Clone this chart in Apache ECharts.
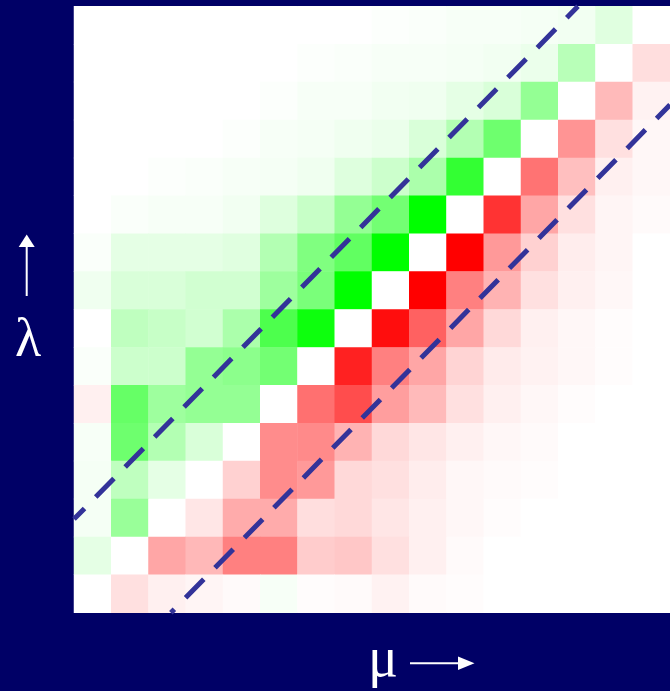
<!DOCTYPE html>
<html>
<head>
<meta charset="utf-8">
<script src="https://cdn.jsdelivr.net/npm/echarts@6/dist/echarts.min.js"></script>
<style>
  html, body { margin: 0; padding: 0; background: #000066; }
  #chart { width: 670px; height: 691px; }
</style>
</head>
<body>
<div id="chart"></div>
<script>
// μ bins along x, λ bins along y (16 each)
const muBins = ['0','1','2','3','4','5','6','7','8','9','10','11','12','13','14','15'];
const lambdaBins = ['0','1','2','3','4','5','6','7','8','9','10','11','12','13','14','15'];

// Signed difference per cell, rows listed from λ = 15 (top) down to λ = 0.
// Positive = green (λ > μ side), negative = red (λ < μ side).
const diffRows = [
  [0, 0, 0, 0, 0, 0, 0, 0, .01, .02, .03, .03, .04, .05, .12, 0],
  [0, 0, 0, 0, 0, 0, .01, .02, .03, .03, .04, .05, .08, .28, 0, -.13],
  [0, 0, 0, 0, 0, .01, .03, .03, .05, .06, .10, .15, .42, 0, -.27, -.05],
  [0, 0, 0, 0, .01, .03, .04, .06, .08, .15, .30, .57, 0, -.42, -.12, -.03],
  [0, 0, .01, .02, .03, .04, .06, .13, .20, .33, .80, 0, -.55, -.25, -.06, -.03],
  [0, .02, .03, .03, .05, .13, .22, .42, .55, 1.0, 0, -.80, -.35, -.12, -.04, -.02],
  [.02, .10, .10, .10, .12, .30, .50, .62, 1.0, 0, -1.0, -.40, -.18, -.07, -.04, 0],
  [.06, .15, .15, .18, .18, .38, .52, 1.0, 0, -1.0, -.50, -.30, -.12, -.06, -.03, 0],
  [0, .25, .22, .18, .33, .70, .95, 0, -.95, -.62, -.35, -.15, -.06, -.03, -.01, 0],
  [.02, .20, .20, .42, .45, .55, 0, -.87, -.50, -.35, -.17, -.08, -.05, -.03, -.01, 0],
  [-.06, .60, .38, .42, .42, 0, -.56, -.70, -.38, -.27, -.12, -.06, -.03, -.01, 0, 0],
  [.03, .57, .30, .15, 0, -.45, -.46, -.30, -.15, -.10, -.06, -.03, -.02, 0, 0, 0],
  [.04, .25, .10, 0, -.18, -.45, -.40, -.15, -.12, -.07, -.03, -.02, -.01, 0, 0, 0],
  [.04, .40, 0, -.10, -.33, -.33, -.13, -.15, -.10, -.06, -.03, -.01, 0, 0, 0, 0],
  [.10, 0, -.35, -.28, -.50, -.50, -.20, -.22, -.12, -.06, -.02, 0, 0, 0, 0, 0],
  [0, -.12, -.06, -.04, -.02, .03, -.01, -.02, -.05, -.02, -.01, 0, 0, 0, 0, 0]
];

// λ − μ offsets of the two dashed boundary lines
const boundOffsets = [2.47, -2.6];

const nBins = muBins.length;
const heatData = [];
diffRows.forEach((row, k) => {
  const lam = nBins - 1 - k;
  row.forEach((v, j) => heatData.push([j, lam, v]));
});

// endpoints of λ = μ + d clipped to the [0, nBins] square
function boundLine(d) {
  const x0 = Math.max(0, -d), y0 = x0 + d;
  const x1 = Math.min(nBins, nBins - d), y1 = x1 + d;
  return [[x0, y0], [x1, y1]];
}

const chart = echarts.init(document.getElementById('chart'), null, { renderer: 'canvas' });

const gridSize = 606.4;
const hiddenAxis = {
  show: false, axisLine: { show: false }, axisTick: { show: false },
  axisLabel: { show: false }, splitLine: { show: false }
};

chart.setOption({
  backgroundColor: '#000066',
  animation: false,
  grid: {
    left: 74, top: 6.3, width: gridSize, height: gridSize, containLabel: false,
    show: true, backgroundColor: '#ffffff', borderWidth: 0
  },
  xAxis: [
    Object.assign({ type: 'category', data: muBins }, hiddenAxis),
    Object.assign({ type: 'value', min: 0, max: nBins }, hiddenAxis)
  ],
  yAxis: [
    Object.assign({ type: 'category', data: lambdaBins }, hiddenAxis),
    Object.assign({ type: 'value', min: 0, max: nBins }, hiddenAxis)
  ],
  visualMap: {
    show: false,
    type: 'continuous',
    seriesIndex: 0,
    dimension: 2,
    min: -1,
    max: 1,
    inRange: { color: ['#ff0000', '#ffffff', '#00ff00'] }
  },
  series: [
    {
      type: 'heatmap',
      xAxisIndex: 0,
      yAxisIndex: 0,
      data: heatData,
      itemStyle: { borderWidth: 0 },
      emphasis: { disabled: true },
      silent: true
    },
    {
      type: 'line',
      xAxisIndex: 1,
      yAxisIndex: 1,
      data: boundLine(boundOffsets[0]),
      symbol: 'none',
      silent: true,
      lineStyle: { color: '#333399', width: 5, type: [26, 16], dashOffset: 11, cap: 'butt' }
    },
    {
      type: 'line',
      xAxisIndex: 1,
      yAxisIndex: 1,
      data: boundLine(boundOffsets[1]),
      symbol: 'none',
      silent: true,
      lineStyle: { color: '#333399', width: 5, type: [26, 16], dashOffset: 21, cap: 'butt' }
    }
  ],
  graphic: [
    // λ label with upward arrow
    { type: 'line', shape: { x1: 26.7, y1: 246, x2: 26.7, y2: 296 }, style: { stroke: '#ffffff', lineWidth: 2 } },
    { type: 'polygon', shape: { points: [[26.7, 234.5], [18.7, 247], [34.7, 247]] }, style: { fill: '#ffffff' } },
    {
      type: 'text', x: 28, y: 315,
      style: { text: 'λ', fill: '#ffffff', font: '54px "Liberation Serif", serif', align: 'center', verticalAlign: 'top' }
    },
    // μ label with rightward arrow
    {
      type: 'text', x: 383, y: 633,
      style: { text: 'μ', fill: '#ffffff', font: '56px "Liberation Serif", serif', align: 'center', verticalAlign: 'top' }
    },
    { type: 'line', shape: { x1: 410, y1: 663.3, x2: 460, y2: 663.3 }, style: { stroke: '#ffffff', lineWidth: 2 } },
    { type: 'polygon', shape: { points: [[474.5, 663.3], [458, 656.5], [458, 670]] }, style: { fill: '#ffffff' } }
  ]
});
</script>
</body>
</html>
